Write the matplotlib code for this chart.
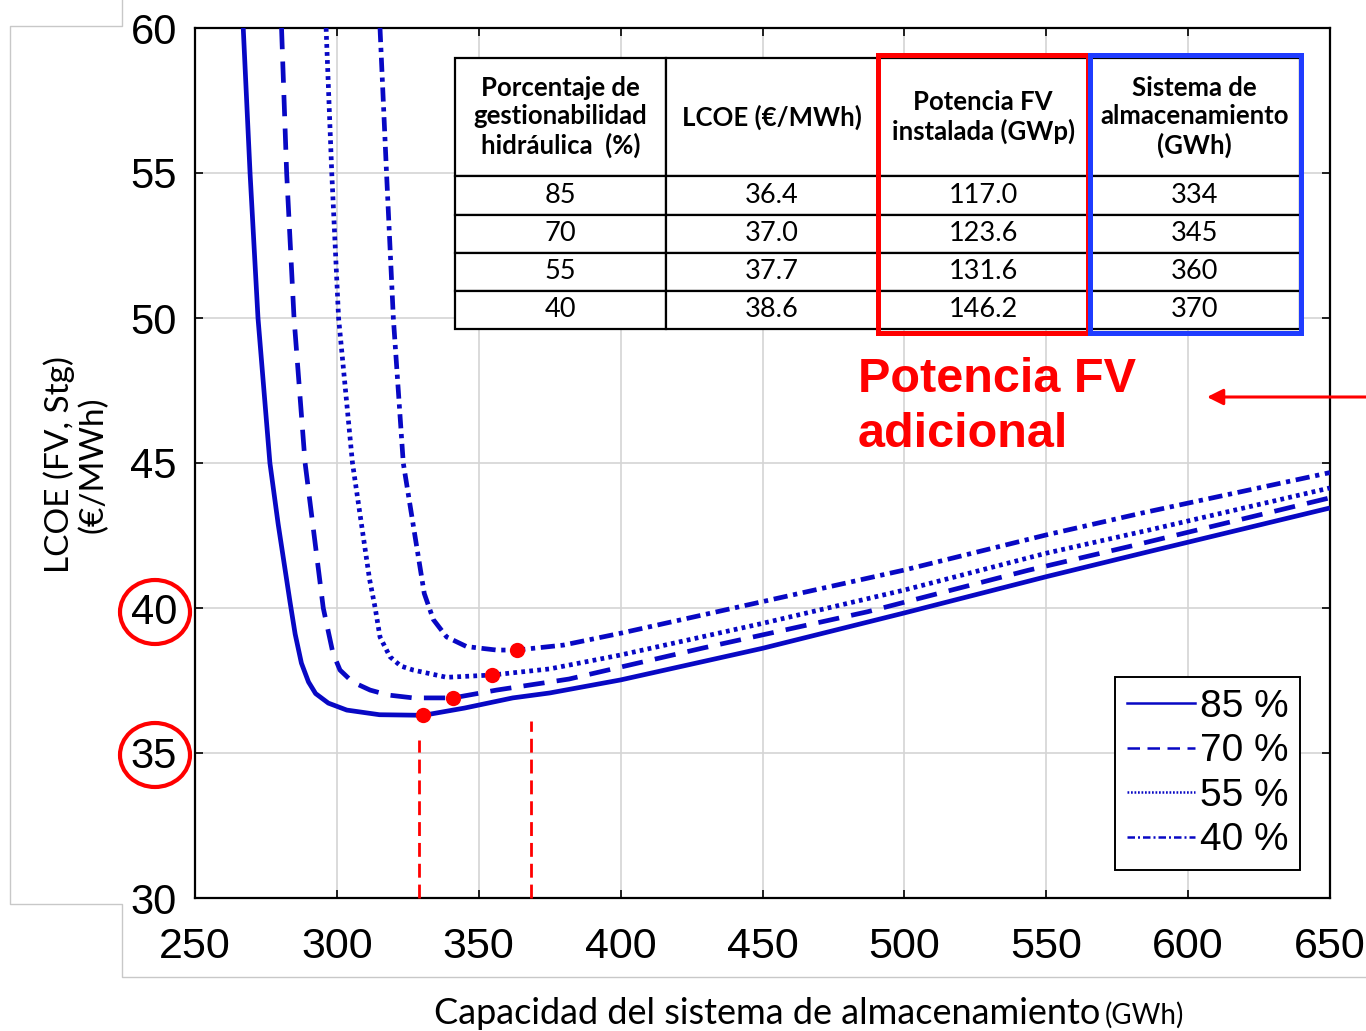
import matplotlib
matplotlib.use('Agg')
import matplotlib.pyplot as plt
from matplotlib.patches import Rectangle, Ellipse
from matplotlib.lines import Line2D

# ---------------- data ----------------
x85 = [267.0, 269.4, 272.2, 276.4, 279.3, 283.5, 285.3, 287.5, 290.0, 292.5, 297.0, 303.5, 315.0, 330.5, 345.0, 362.0, 375.0, 400.0, 450.0, 500.0, 550.0, 586.0, 650.0]
y85 = [60.0, 55.0, 50.0, 45.0, 42.9, 40.2, 39.1, 38.1, 37.45, 37.05, 36.72, 36.48, 36.32, 36.3, 36.55, 36.9, 37.07, 37.52, 38.61, 39.83, 41.08, 41.94, 43.45]

x70 = [280.5, 282.3, 284.9, 288.8, 295.2, 298.6, 301.1, 305.5, 311.7, 318.0, 326.9, 341.0, 356.3, 381.8, 429.0, 487.0, 543.6, 578.8, 650.0]
y70 = [60.0, 55.0, 50.0, 45.0, 40.0, 38.45, 37.86, 37.45, 37.17, 37.0, 36.9, 36.9, 37.17, 37.55, 38.62, 39.87, 41.3, 42.11, 43.8]

x55 = [296.2, 298.2, 300.6, 305.5, 311.5, 313.5, 315.2, 318.7, 322.5, 326.9, 338.7, 354.8, 375.0, 400.0, 450.0, 500.0, 550.0, 586.3, 650.0]
y55 = [60.0, 55.0, 50.0, 45.0, 41.0, 40.0, 39.0, 38.32, 38.0, 37.86, 37.61, 37.69, 37.9, 38.38, 39.47, 40.62, 41.89, 42.69, 44.14]

x40 = [315.2, 317.5, 319.9, 323.4, 327.5, 330.8, 334.0, 338.7, 345.7, 356.3, 363.4, 379.8, 400.0, 450.0, 500.0, 550.0, 583.5, 650.0]
y40 = [60.0, 55.0, 50.0, 45.0, 42.5, 40.5, 39.6, 39.0, 38.67, 38.55, 38.55, 38.72, 39.13, 40.22, 41.31, 42.52, 43.27, 44.67]

series_labels = ['85 %', '70 %', '55 %', '40 %']

opt_x = [330.5, 341.0, 354.8, 363.4]
opt_y = [36.3, 36.9, 37.7, 38.55]

vline_x = [329.0, 368.4]
vline_top = [35.45, 36.1]

table_header = ['Porcentaje de\ngestionabilidad\nhidráulica  (%)', 'LCOE (€/MWh)',
                'Potencia FV\ninstalada (GWp)', 'Sistema de\nalmacenamiento\n(GWh)']
col_pct = ['85', '70', '55', '40']
col_lcoe = ['36.4', '37.0', '37.7', '38.6']
col_pv = ['117.0', '123.6', '131.6', '146.2']
col_stg = ['334', '345', '360', '370']

xticks = [250, 300, 350, 400, 450, 500, 550, 600, 650]
yticks = [30, 35, 40, 45, 50, 55, 60]

# ---------------- figure ----------------
W, H = 1366, 1031
fig = plt.figure(figsize=(W / 100, H / 100), dpi=100)
fig.patch.set_facecolor('white')

def fx(px):
    return px / W

def fy(py):
    return 1 - py / H

ax = fig.add_axes([fx(195), fy(898), (1330 - 195) / W, (898 - 28) / H])
ax.set_xlim(250, 650)
ax.set_ylim(30, 60)

blue = '#0808c4'
lw = 3.4
l85, = ax.plot(x85, y85, color=blue, lw=lw, solid_capstyle='butt', zorder=3)
l70, = ax.plot(x70, y70, color=blue, lw=lw, dashes=(4.5, 2.6), zorder=3)
l55, = ax.plot(x55, y55, color=blue, lw=lw, dashes=(0.8, 0.9), zorder=3)
l40, = ax.plot(x40, y40, color=blue, lw=lw, dashes=(3.0, 1.2, 0.9, 1.2), zorder=3)

# red optimum dots
ax.plot(opt_x, opt_y, 'o', color='#ff0000', ms=11, mec='none', zorder=4)

# red dashed verticals
for xv, yt in zip(vline_x, vline_top):
    ax.plot([xv, xv], [30, yt], color='#ff0000', lw=2.0, dashes=(5, 2.5), zorder=4, clip_on=False)

ax.set_xticks(xticks)
ax.set_yticks(yticks)
ax.grid(True, color='#d4d4d4', lw=1.2)
ax.set_axisbelow(True)
ax.tick_params(direction='in', length=6, width=1.2, top=True, right=True)
ax.tick_params(axis='x', labelsize=31, pad=21)
ax.tick_params(axis='y', labelsize=30, pad=13)
for lab in ax.get_xticklabels() + ax.get_yticklabels():
    lab.set_fontfamily('Liberation Sans')
for sp in ax.spines.values():
    sp.set_linewidth(1.6)
    sp.set_color('black')

# legend
handles = [
    Line2D([], [], color=blue, lw=1.8),
    Line2D([], [], color=blue, lw=1.8, dashes=(5, 3)),
    Line2D([], [], color=blue, lw=1.8, dashes=(0.7, 0.7)),
    Line2D([], [], color=blue, lw=1.8, dashes=(3.0, 1.2, 0.8, 1.2)),
]
leg = ax.legend(handles, series_labels, loc='lower right',
                bbox_to_anchor=((1300 - 195) / 1135, (898 - 870) / 870),
                borderaxespad=0, fancybox=False, framealpha=1, edgecolor='black',
                prop={'family': 'Liberation Sans', 'size': 28},
                handlelength=1.75, handletextpad=0.12, labelspacing=0.22,
                borderpad=0.3)
leg.get_frame().set_linewidth(1.4)
leg.set_zorder(7)

# table
rows = [[a, b, c, d] for a, b, c, d in zip(col_pct, col_lcoe, col_pv, col_stg)]
tx0 = (455 - 195) / 1135
tx1 = (1300 - 195) / 1135
ty1 = (898 - 58) / 870
ty0 = (898 - 329) / 870
tbl = ax.table(cellText=rows, colLabels=table_header, cellLoc='center',
               bbox=[tx0, ty0, tx1 - tx0, ty1 - ty0], zorder=5)
tbl.auto_set_font_size(False)
for (r, c), cell in tbl.get_celld().items():
    cell.set_height(118 if r == 0 else 38)
    cell.set_width(1.0)
    cell.set_linewidth(1.6)
    cell.set_edgecolor('black')
    cell.set_facecolor('white')
    cell.PAD = 0.02
    t = cell.get_text()
    t.set_fontfamily('Lato')
    if r == 0:
        t.set_fontsize(18.5)
        t.set_fontweight('bold')
        t.set_linespacing(1.2)
    else:
        t.set_fontsize(19.5)

# coloured boxes around table columns
ax.add_patch(Rectangle(((878 - 195) / 1135, (898 - 333) / 870), (1088 - 878) / 1135, (333 - 55) / 870,
                       transform=ax.transAxes, fill=False, ec='#ff0000', lw=3.6, zorder=6, clip_on=False))
ax.add_patch(Rectangle(((1090 - 195) / 1135, (898 - 333) / 870), (1301 - 1090) / 1135, (333 - 55) / 870,
                       transform=ax.transAxes, fill=False, ec='#1f3cff', lw=3.6, zorder=6, clip_on=False))

# annotation text and arrow
fig.text(fx(858), fy(392), 'Potencia FV', color='#ff0000', fontsize=35, fontweight='bold',
         family='Liberation Sans', ha='left', va='baseline')
fig.text(fx(858), fy(447), 'adicional', color='#ff0000', fontsize=35, fontweight='bold',
         family='Liberation Sans', ha='left', va='baseline')
ax.annotate('', xy=(fx(1207), fy(397)), xytext=(fx(1366), fy(397)),
            xycoords='figure fraction', textcoords='figure fraction',
            arrowprops=dict(arrowstyle='-|>', color='#ff0000', lw=2.2, mutation_scale=24,
                            shrinkA=0, shrinkB=0))

# red circles around 40 and 35 tick labels
for cy in (612, 755):
    fig.add_artist(Ellipse((fx(155), fy(cy)), 70 / W, 64 / H, transform=fig.transFigure,
                           fill=False, ec='#ff0000', lw=3.0))

# light gray frame from the composed image
gx = [122, 122, 10, 10, 122, 122, 1366]
gy = [0, 26, 26, 904, 904, 977, 977]
fig.add_artist(Line2D([fx(v) for v in gx], [fy(v) for v in gy], transform=fig.transFigure,
                      color='#c8c8c8', lw=1.0))

# axis labels
fig.text(fx(76), fy(465), 'LCOE (FV, Stg)\n(€/MWh)', rotation=90, ha='center', va='center',
         fontsize=24, family='Lato', linespacing=1.1, multialignment='center')
fig.text(fx(1100), fy(1024), 'Capacidad del sistema de almacenamiento', ha='right', va='baseline',
         fontsize=26, family='Lato')
fig.text(fx(1105), fy(1024), '(GWh)', ha='left', va='baseline', fontsize=20, family='Lato')

fig.savefig('out.png', dpi=100)
